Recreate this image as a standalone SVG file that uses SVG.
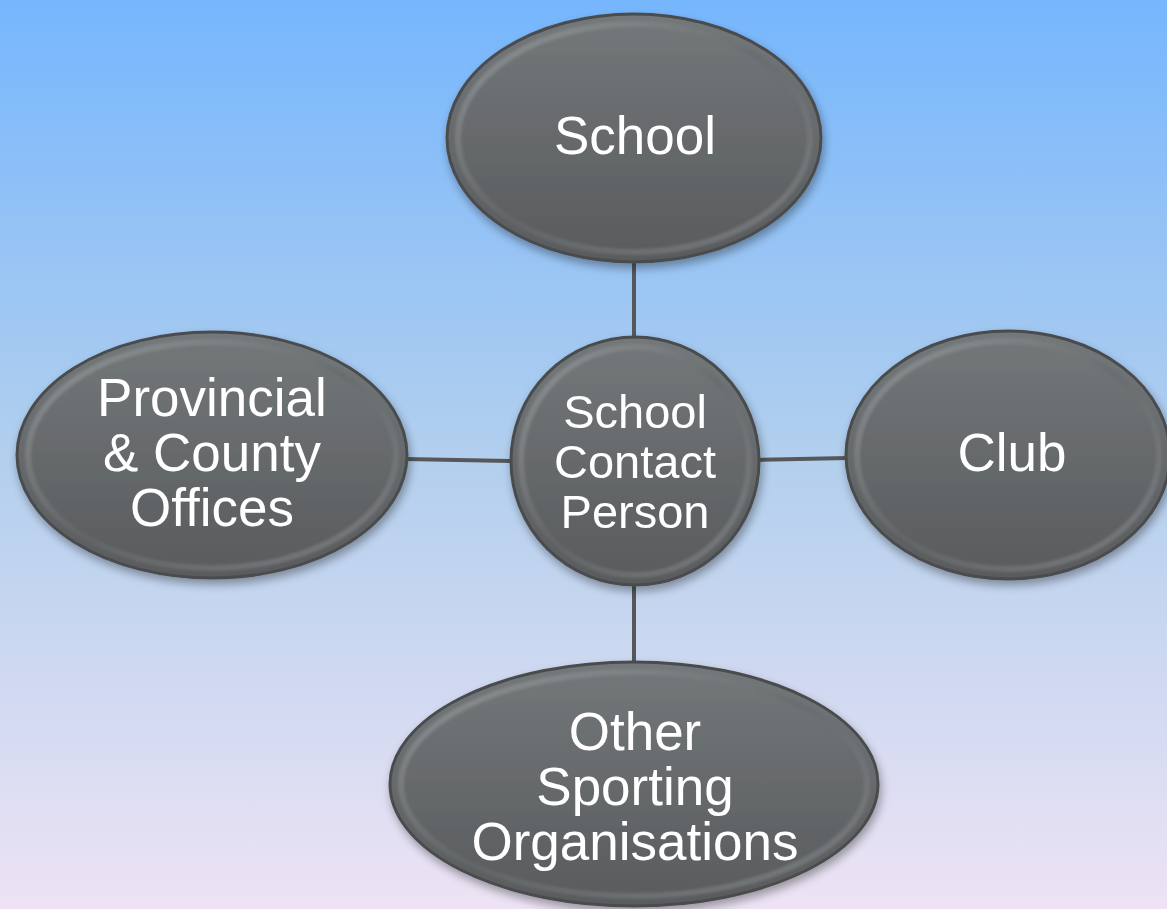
<svg xmlns="http://www.w3.org/2000/svg" width="1167" height="909" viewBox="0 0 1167 909">
<defs>
<linearGradient id="bg" x1="0" y1="0" x2="0" y2="1">
<stop offset="0" stop-color="#76b6fd"/>
<stop offset="0.5" stop-color="#b2cfee"/>
<stop offset="1" stop-color="#ede3f4"/>
</linearGradient>
<linearGradient id="fill" x1="0" y1="0" x2="0" y2="1">
<stop offset="0" stop-color="#73787a"/>
<stop offset="1" stop-color="#595b5d"/>
</linearGradient>
<linearGradient id="rim" x1="0" y1="0" x2="1" y2="1">
<stop offset="0" stop-color="#a6aaac"/>
<stop offset="0.5" stop-color="#66696b"/>
<stop offset="1" stop-color="#8c9092"/>
</linearGradient>
<filter id="sh" x="-20%" y="-20%" width="140%" height="140%">
<feGaussianBlur in="SourceAlpha" stdDeviation="5"/>
<feOffset dx="2" dy="5" result="b"/>
<feComponentTransfer><feFuncA type="linear" slope="0.35"/></feComponentTransfer>
<feMerge><feMergeNode/><feMergeNode in="SourceGraphic"/></feMerge>
</filter>
<filter id="soft" x="-10%" y="-10%" width="120%" height="120%">
<feGaussianBlur stdDeviation="1.5"/>
</filter>
</defs>
<style>
.outer{fill:url(#fill);stroke:#4a4c4e;stroke-width:3}
.rim{fill:none;stroke:url(#rim);stroke-width:6;opacity:0.6;filter:url(#soft)}
.lbl{font-family:"Liberation Sans",Arial,sans-serif;fill:#ffffff;text-anchor:middle;font-size:53px}
.c{font-size:47px}
.conn line{stroke:#555759;stroke-width:4}
</style>
<rect width="1167" height="909" fill="url(#bg)"/>
<g id="connectors" class="conn">
<line x1="634" y1="258" x2="634" y2="342"/>
<line x1="405" y1="459" x2="514" y2="461"/>
<line x1="756" y1="460" x2="848" y2="458"/>
<line x1="634" y1="582" x2="634" y2="664"/>
</g>
<g id="school" filter="url(#sh)">
<ellipse class="outer" cx="634" cy="138" rx="187" ry="124"/>
<ellipse class="rim" cx="634" cy="138" rx="176" ry="114"/>
<text class="lbl" x="635" y="154">School</text>
</g>
<g id="provincial" filter="url(#sh)">
<ellipse class="outer" cx="212" cy="455" rx="195" ry="123"/>
<ellipse class="rim" cx="212" cy="455" rx="184" ry="113"/>
<text class="lbl" x="212" y="416">Provincial</text>
<text class="lbl" x="212" y="471">&amp; County</text>
<text class="lbl" x="212" y="526">Offices</text>
</g>
<g id="club" filter="url(#sh)">
<ellipse class="outer" cx="1008" cy="455" rx="162" ry="124"/>
<ellipse class="rim" cx="1008" cy="455" rx="151" ry="114"/>
<text class="lbl" x="1012" y="471">Club</text>
</g>
<g id="other" filter="url(#sh)">
<ellipse class="outer" cx="634" cy="784" rx="244" ry="122"/>
<ellipse class="rim" cx="634" cy="784" rx="233" ry="112"/>
<text class="lbl" x="635" y="750">Other</text>
<text class="lbl" x="635" y="805">Sporting</text>
<text class="lbl" x="635" y="860">Organisations</text>
</g>
<g id="contact" filter="url(#sh)">
<circle class="outer" cx="635" cy="461" r="124"/>
<circle class="rim" cx="635" cy="461" r="114"/>
<text class="lbl c" x="635" y="428">School</text>
<text class="lbl c" x="635" y="478">Contact</text>
<text class="lbl c" x="635" y="528">Person</text>
</g>
</svg>
